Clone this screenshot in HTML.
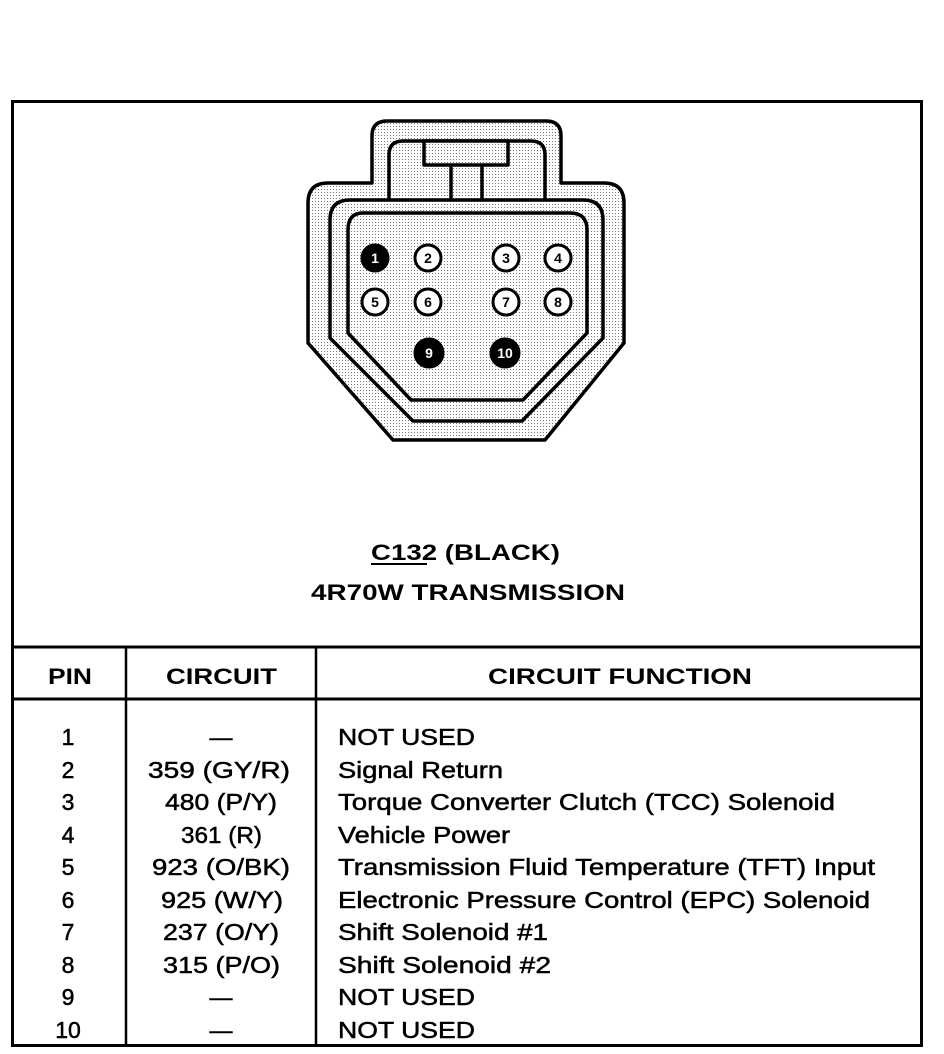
<!DOCTYPE html>
<html><head><meta charset="utf-8"><style>
html,body{margin:0;padding:0;background:#fff;width:944px;height:1054px;overflow:hidden}
svg{display:block}
text{font-family:"Liberation Sans",Arial,sans-serif;fill:#000}
.d{font-size:23px;stroke:#000;stroke-width:0.5}
.h{font-size:22px;font-weight:bold}
</style></head><body>
<svg width="944" height="1054" viewBox="0 0 944 1054" xmlns="http://www.w3.org/2000/svg">
<defs>
<pattern id="dots" width="3" height="3" patternUnits="userSpaceOnUse">
<rect width="3" height="3" fill="#fff"/><rect x="0" y="0" width="1" height="1" fill="#777"/>
</pattern>
</defs>
<rect x="12.5" y="101.5" width="909" height="944" fill="none" stroke="#000" stroke-width="3"/>
<line x1="12" y1="647" x2="922" y2="647" stroke="#000" stroke-width="3"/>
<line x1="12" y1="699" x2="922" y2="699" stroke="#000" stroke-width="3"/>
<line x1="126" y1="647" x2="126" y2="1046" stroke="#000" stroke-width="2.5"/>
<line x1="316" y1="647" x2="316" y2="1046" stroke="#000" stroke-width="2.5"/>

<g stroke="#000" stroke-width="3.5" stroke-linejoin="round">
<path d="M372,183 L372,136 Q372,121 387,121 L546,121 Q561,121 561,136 L561,183 L604,183 Q624,183 624,203 L624,343 L545,440 L393,440 L308,343 L308,203 Q308,183 328,183 Z" fill="url(#dots)"/>
<path d="M389,200 L389,155 Q389,141 403,141 L531,141 Q545,141 545,155 L545,200" fill="none"/>
<path d="M350,200 L583,200 Q603,200 603,220 L603,338 L522,421 L413,421 L330,338 L330,220 Q330,200 350,200 Z" fill="none"/>
<rect x="424" y="141" width="84" height="24" fill="url(#dots)"/>
<line x1="451" y1="165" x2="451" y2="200"/>
<line x1="482" y1="165" x2="482" y2="200"/>
<path d="M363,213 L570,213 Q587,213 587,230 L587,333 L523,400 L411,400 L348,333 L348,230 Q348,213 363,213 Z" fill="none"/>
</g>
<g stroke="#000" stroke-width="3" fill="#fff">
<circle cx="375" cy="258" r="13" fill="#000"/>
<circle cx="428" cy="258" r="13"/>
<circle cx="506" cy="258" r="13"/>
<circle cx="558" cy="258" r="13"/>
<circle cx="375" cy="302" r="13"/>
<circle cx="428" cy="302" r="13"/>
<circle cx="506" cy="302" r="13"/>
<circle cx="558" cy="302" r="13"/>
<circle cx="429" cy="353" r="14" fill="#000"/>
<circle cx="505" cy="353" r="14" fill="#000"/>
</g>
<g font-size="14" font-weight="bold" text-anchor="middle">
<text x="375" y="263" style="fill:#fff">1</text>
<text x="428" y="263">2</text><text x="506" y="263">3</text><text x="558" y="263">4</text>
<text x="375" y="307">5</text><text x="428" y="307">6</text><text x="506" y="307">7</text><text x="558" y="307">8</text>
<text x="429" y="358" style="fill:#fff">9</text><text x="505" y="358" style="fill:#fff">10</text>
</g>

<text class="h" x="371" y="560" textLength="189" lengthAdjust="spacingAndGlyphs">C132 (BLACK)</text>
<line x1="371" y1="564" x2="427" y2="564" stroke="#000" stroke-width="2"/>
<text class="h" x="311" y="600" textLength="314" lengthAdjust="spacingAndGlyphs">4R70W TRANSMISSION</text>

<text class="h" x="48" y="684" textLength="44" lengthAdjust="spacingAndGlyphs">PIN</text>
<text class="h" x="166" y="684" textLength="111" lengthAdjust="spacingAndGlyphs">CIRCUIT</text>
<text class="h" x="488" y="684" textLength="264" lengthAdjust="spacingAndGlyphs">CIRCUIT FUNCTION</text>

<g class="d">
<g text-anchor="middle">
<text x="68" y="745">1</text><text x="68" y="778">2</text><text x="68" y="810">3</text><text x="68" y="843">4</text><text x="68" y="875">5</text>
<text x="68" y="908">6</text><text x="68" y="940">7</text><text x="68" y="973">8</text><text x="68" y="1005">9</text><text x="68" y="1038">10</text>
<text x="221" y="745">—</text>
<text x="221" y="1005">—</text>
<text x="221" y="1038">—</text>
</g>
<text x="148" y="778" textLength="142" lengthAdjust="spacingAndGlyphs">359 (GY/R)</text>
<text x="165" y="810" textLength="112" lengthAdjust="spacingAndGlyphs">480 (P/Y)</text>
<text x="181" y="843" textLength="81" lengthAdjust="spacingAndGlyphs">361 (R)</text>
<text x="152" y="875" textLength="138" lengthAdjust="spacingAndGlyphs">923 (O/BK)</text>
<text x="161" y="908" textLength="122" lengthAdjust="spacingAndGlyphs">925 (W/Y)</text>
<text x="163" y="940" textLength="116" lengthAdjust="spacingAndGlyphs">237 (O/Y)</text>
<text x="163" y="973" textLength="117" lengthAdjust="spacingAndGlyphs">315 (P/O)</text>

<text x="338" y="745" textLength="137" lengthAdjust="spacingAndGlyphs">NOT USED</text>
<text x="338" y="778" textLength="165" lengthAdjust="spacingAndGlyphs">Signal Return</text>
<text x="338" y="810" textLength="497" lengthAdjust="spacingAndGlyphs">Torque Converter Clutch (TCC) Solenoid</text>
<text x="338" y="843" textLength="172" lengthAdjust="spacingAndGlyphs">Vehicle Power</text>
<text x="338" y="875" textLength="537" lengthAdjust="spacingAndGlyphs">Transmission Fluid Temperature (TFT) Input</text>
<text x="338" y="908" textLength="532" lengthAdjust="spacingAndGlyphs">Electronic Pressure Control (EPC) Solenoid</text>
<text x="338" y="940" textLength="210" lengthAdjust="spacingAndGlyphs">Shift Solenoid #1</text>
<text x="338" y="973" textLength="213" lengthAdjust="spacingAndGlyphs">Shift Solenoid #2</text>
<text x="338" y="1005" textLength="137" lengthAdjust="spacingAndGlyphs">NOT USED</text>
<text x="338" y="1038" textLength="137" lengthAdjust="spacingAndGlyphs">NOT USED</text>
</g>
</svg>
</body></html>
